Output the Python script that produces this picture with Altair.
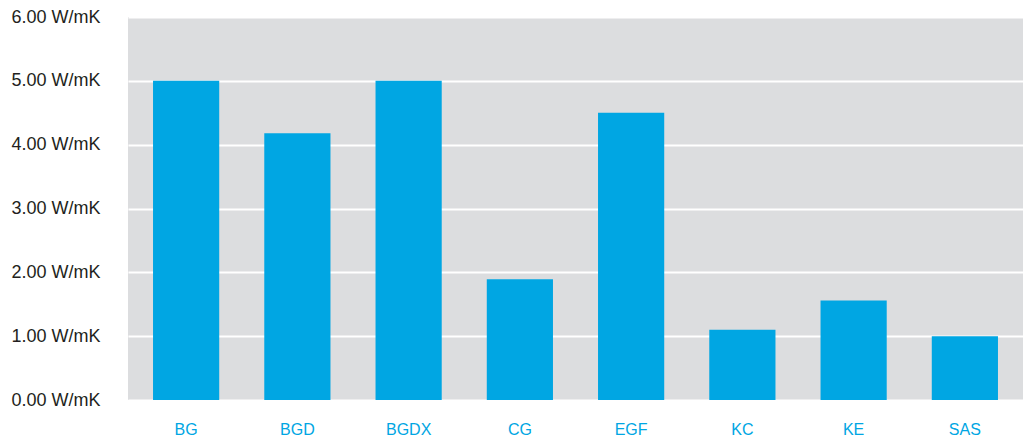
import altair as alt
import pandas as pd

# Thermal conductivity per product grade
grades = ["BG", "BGD", "BGDX", "CG", "EGF", "KC", "KE", "SAS"]
conductivity = [5.0, 4.18, 5.0, 1.89, 4.5, 1.1, 1.56, 1.0]
y_ticks = [0, 1, 2, 3, 4, 5, 6]

df = pd.DataFrame({"grade": grades, "value": conductivity})

bars = alt.Chart(df).mark_bar(color="#00A6E3").encode(
    x=alt.X(
        "grade:N",
        sort=grades,
        title=None,
        scale=alt.Scale(paddingInner=0.405, paddingOuter=0.225),
        axis=alt.Axis(
            domain=False,
            ticks=False,
            labelAngle=0,
            labelColor="#00A6E3",
            labelFont="Liberation Sans",
            labelFontSize=16,
            labelBaseline="alphabetic",
            labelPadding=34,
        ),
    ),
    y=alt.Y(
        "value:Q",
        title=None,
        scale=alt.Scale(domain=[0, 6], nice=False),
        axis=alt.Axis(
            values=y_ticks,
            labelExpr="format(datum.value, '.2f') + ' W/mK'",
            domain=False,
            ticks=False,
            labelAlign="right",
            labelBaseline="middle",
            labelPadding=28,
            labelColor="#231F20",
            labelFont="Liberation Sans",
            labelFontSize=18,
            grid=True,
            gridColor="#FFFFFF",
            gridWidth=2,
            gridOpacity=1,
        ),
    ),
)

chart = bars.properties(
    width=895,
    height=383,
    background="#FFFFFF",
    autosize=alt.AutoSizeParams(type="none"),
    padding={"left": 128, "top": 17, "right": 0, "bottom": 40},
).configure_view(
    fill="#DCDDDF",
    stroke=None,
)

chart.save("out.html", embed_options={"renderer": "svg", "actions": False})
